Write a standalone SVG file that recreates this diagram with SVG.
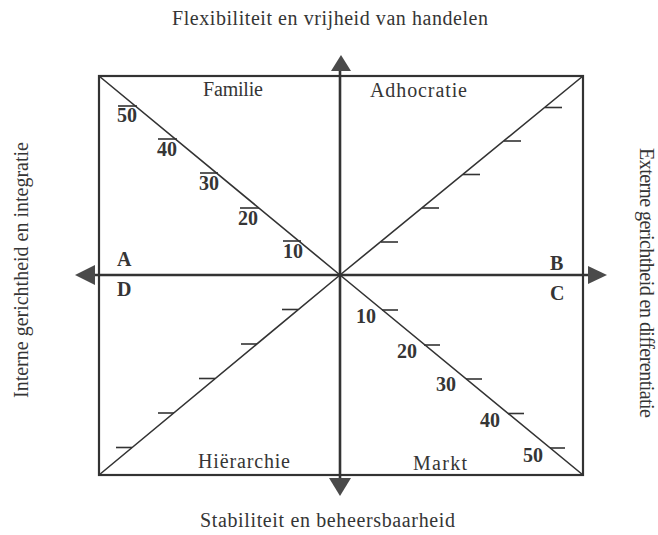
<svg xmlns="http://www.w3.org/2000/svg" width="658" height="535" viewBox="0 0 658 535">
<style>
  .ln{stroke:#333;fill:none;stroke-linecap:butt}
  .box{stroke-width:2.2}
  .axis{stroke-width:2.6}
  .diag{stroke-width:1.6}
  .tick{stroke-width:1.6}
  .head{fill:#4a4a4a;stroke:none}
  .t{font-family:"Liberation Serif","Times New Roman",serif;fill:#353535}
  .title{font-size:20px}
  .q{font-size:20px}
  .num{font-size:20px;font-weight:bold}
  .let{font-size:20px;font-weight:bold}
</style>
<rect width="658" height="535" fill="#fff"/>

<g id="frame">
  <rect class="ln box" x="99" y="76" width="484" height="399"/>
</g>

<g id="connectors">
  <line class="ln axis" x1="93" y1="275" x2="590" y2="275"/>
  <line class="ln axis" x1="340" y1="70" x2="340" y2="479"/>
  <polygon class="head" points="75,275 95,265 95,285"/>
  <polygon class="head" points="607,275 588,266 588,284"/>
  <polygon class="head" points="341,55 331,71 351,71"/>
  <polygon class="head" points="340,496 329,478 351,478"/>
  <polyline class="ln diag" points="99,76 340,275 583,475"/>
  <polyline class="ln diag" points="583,76 340,275 99,475"/>
</g>

<g id="ticks">
  <!-- top-left -->
  <line class="ln tick" x1="118" y1="106" x2="137" y2="106"/>
  <line class="ln tick" x1="158" y1="139" x2="177" y2="139"/>
  <line class="ln tick" x1="200" y1="173" x2="218" y2="173"/>
  <line class="ln tick" x1="240" y1="208" x2="259" y2="208"/>
  <line class="ln tick" x1="283" y1="241" x2="301" y2="241"/>
  <!-- top-right -->
  <line class="ln tick" x1="381" y1="242" x2="398" y2="242"/>
  <line class="ln tick" x1="422" y1="208" x2="439" y2="208"/>
  <line class="ln tick" x1="463" y1="174.5" x2="480" y2="174.5"/>
  <line class="ln tick" x1="504" y1="141" x2="521" y2="141"/>
  <line class="ln tick" x1="545" y1="107.5" x2="562" y2="107.5"/>
  <!-- bottom-left -->
  <line class="ln tick" x1="282" y1="309.5" x2="298" y2="309.5"/>
  <line class="ln tick" x1="241" y1="344" x2="257" y2="344"/>
  <line class="ln tick" x1="199" y1="378.5" x2="215" y2="378.5"/>
  <line class="ln tick" x1="158" y1="413" x2="174" y2="413"/>
  <line class="ln tick" x1="116" y1="447.5" x2="132" y2="447.5"/>
  <!-- bottom-right -->
  <line class="ln tick" x1="382" y1="310" x2="398" y2="310"/>
  <line class="ln tick" x1="424" y1="345" x2="440" y2="345"/>
  <line class="ln tick" x1="466" y1="379" x2="482" y2="379"/>
  <line class="ln tick" x1="508" y1="413.5" x2="524" y2="413.5"/>
  <line class="ln tick" x1="550" y1="448" x2="565" y2="448"/>
</g>

<g id="scale-familie">
  <text class="t num" x="117" y="122">50</text>
  <text class="t num" x="157" y="156">40</text>
  <text class="t num" x="199" y="190">30</text>
  <text class="t num" x="238" y="225">20</text>
  <text class="t num" x="283" y="258">10</text>
</g>

<g id="scale-markt" text-anchor="end">
  <text class="t num" x="376" y="323">10</text>
  <text class="t num" x="417" y="358">20</text>
  <text class="t num" x="456" y="391">30</text>
  <text class="t num" x="500" y="427">40</text>
  <text class="t num" x="543" y="462">50</text>
</g>

<g id="quadrant-familie"><text class="t q" x="203" y="96" textLength="60">Familie</text></g>
<g id="quadrant-adhocratie"><text class="t q" x="370" y="97" textLength="97">Adhocratie</text></g>
<g id="quadrant-hierarchie"><text class="t q" x="198" y="468" textLength="92">Hiërarchie</text></g>
<g id="quadrant-markt"><text class="t q" x="413" y="470" textLength="54">Markt</text></g>

<g id="corner-labels">
  <text class="t let" x="117" y="266">A</text>
  <text class="t let" x="550" y="270">B</text>
  <text class="t let" x="550" y="300">C</text>
  <text class="t let" x="117" y="296">D</text>
</g>

<g id="axis-titles">
  <text class="t title" x="172" y="25" textLength="316">Flexibiliteit en vrijheid van handelen</text>
  <text class="t title" x="200" y="527" textLength="255">Stabiliteit en beheersbaarheid</text>
  <text class="t title" text-anchor="middle" transform="translate(28,270) rotate(-90)" textLength="256">Interne gerichtheid en integratie</text>
  <text class="t title" text-anchor="middle" transform="translate(640,283) rotate(90)" textLength="270">Externe gerichtheid en differentiatie</text>
</g>
</svg>
